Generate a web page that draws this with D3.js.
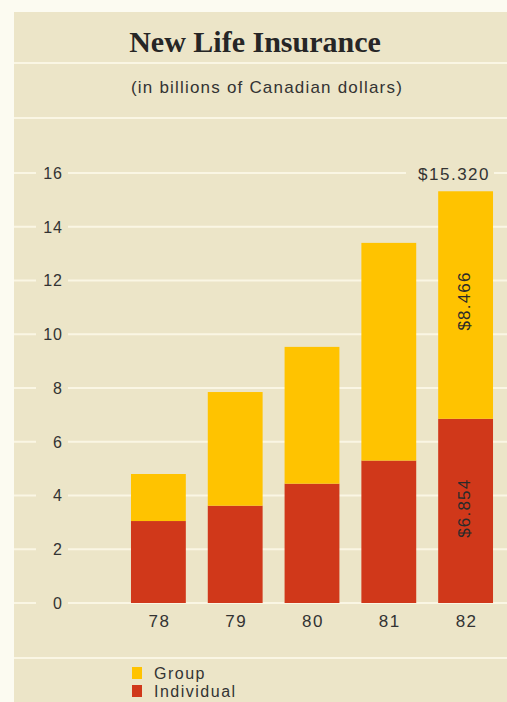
<!DOCTYPE html>
<html>
<head>
<meta charset="utf-8">
<script src="https://cdn.jsdelivr.net/npm/d3@7"></script>
<style>
  html, body { margin: 0; padding: 0; background: #fcfbf1; }
  svg { display: block; }
</style>
</head>
<body>
<div id="chart-area"></div>
<script>
// data
var years = ['78', '79', '80', '81', '82'];
var individual = [3.05, 3.62, 4.44, 5.30, 6.854];
var group = [1.75, 4.23, 5.09, 8.10, 8.466];
var yTicks = [0, 2, 4, 6, 8, 10, 12, 14, 16];
var seriesNames = ['Group', 'Individual'];
var totalLabel = '$15.320';
var groupLabel = '$8.466';
var indivLabel = '$6.854';

var W = 507, H = 702;
var panel = { left: 14, top: 12 };
var bg = '#ece5c8', lineCol = '#faf6e4', textCol = '#333';
var colors = { Group: '#ffc300', Individual: '#d0381a' };
var sans = '"Liberation Sans", Arial, sans-serif';

var svg = d3.select('#chart-area').append('svg')
  .attr('width', W).attr('height', H);

svg.append('rect')
  .attr('x', panel.left).attr('y', panel.top)
  .attr('width', W - panel.left).attr('height', H - panel.top)
  .attr('fill', bg);

// band separators
[63, 118, 658].forEach(function(yy) {
  svg.append('rect').attr('x', panel.left).attr('y', yy - 1)
    .attr('width', W - panel.left).attr('height', 2).attr('fill', lineCol);
});

svg.append('text')
  .attr('x', 255).attr('y', 52)
  .attr('text-anchor', 'middle')
  .attr('font-family', '"Liberation Serif", "Times New Roman", serif')
  .attr('font-weight', 'bold').attr('font-size', '30px')
  .attr('fill', '#262626')
  .text('New Life Insurance');

svg.append('text')
  .attr('x', 267).attr('y', 93)
  .attr('text-anchor', 'middle')
  .attr('font-family', sans).attr('font-size', '17px')
  .attr('letter-spacing', '1.2px')
  .attr('fill', textCol)
  .text('(in billions of Canadian dollars)');

var x = d3.scaleBand().domain(years).range([120, 504])
  .paddingInner(0.286).paddingOuter(0.143);
var y = d3.scaleLinear().domain([0, 16]).range([603, 173]);

// gridlines
svg.append('g').selectAll('rect').data(yTicks).enter().append('rect')
  .attr('x', panel.left).attr('y', function(d) { return y(d) - 1; })
  .attr('width', W - panel.left).attr('height', 2).attr('fill', lineCol);

// y labels with beige knockouts
var yl = svg.append('g');
yl.selectAll('rect').data(yTicks).enter().append('rect')
  .attr('x', 36).attr('y', function(d) { return y(d) - 4; })
  .attr('width', 32).attr('height', 8).attr('fill', bg);
yl.selectAll('text').data(yTicks).enter().append('text')
  .attr('x', 63).attr('y', function(d) { return y(d); })
  .attr('dy', '0.36em')
  .attr('text-anchor', 'end')
  .attr('font-family', sans).attr('font-size', '16px')
  .attr('letter-spacing', '1px')
  .attr('fill', textCol)
  .text(function(d) { return d; });

// stacked bars
var table = years.map(function(yr, i) {
  return { year: yr, Individual: individual[i], Group: group[i] };
});
var stack = d3.stack().keys(['Individual', 'Group'])(table);

svg.append('g').selectAll('g').data(stack).enter().append('g')
  .attr('fill', function(s) { return colors[s.key]; })
  .selectAll('rect').data(function(s) { return s; }).enter().append('rect')
  .attr('x', function(d) { return x(d.data.year); })
  .attr('y', function(d) { return y(d[1]); })
  .attr('width', x.bandwidth())
  .attr('height', function(d) { return y(d[0]) - y(d[1]); });

// x labels
svg.append('g').selectAll('text').data(years).enter().append('text')
  .attr('x', function(d) { return x(d) + x.bandwidth() / 2 + 1; })
  .attr('y', 627)
  .attr('text-anchor', 'middle')
  .attr('font-family', sans).attr('font-size', '17px')
  .attr('letter-spacing', '1.5px')
  .attr('fill', textCol)
  .text(function(d) { return d; });

// value labels on last bar
var last = years.length - 1;
var cx = x(years[last]) + x.bandwidth() / 2;
var total = individual[last] + group[last];

svg.append('rect')
  .attr('x', 406).attr('y', y(16) - 4).attr('width', 88).attr('height', 8)
  .attr('fill', bg);
svg.append('text')
  .attr('x', x(years[last]) + x.bandwidth() - 3).attr('y', y(total) - 11)
  .attr('text-anchor', 'end')
  .attr('font-family', sans).attr('font-size', '17px')
  .attr('letter-spacing', '1.5px')
  .attr('fill', textCol)
  .text(totalLabel);

function vLabel(val, mid) {
  svg.append('text')
    .attr('transform', 'translate(' + (cx - 2) + ',' + y(mid) + ') rotate(-90)')
    .attr('dy', '0.36em')
    .attr('text-anchor', 'middle')
    .attr('font-family', sans).attr('font-size', '17px')
    .attr('letter-spacing', '1.2px')
    .attr('fill', '#2a2a2a')
    .text(val);
}
vLabel(groupLabel, individual[last] + group[last] / 2 + 0.15);
vLabel(indivLabel, individual[last] / 2 + 0.1);

// legend
var lg = svg.append('g');
seriesNames.forEach(function(name, i) {
  var yy = 673 + i * 18;
  lg.append('rect').attr('x', 132).attr('y', yy - 6)
    .attr('width', 10).attr('height', 12).attr('fill', colors[name]);
  lg.append('text').attr('x', 154).attr('y', yy).attr('dy', '0.36em')
    .attr('font-family', sans).attr('font-size', '16px')
    .attr('letter-spacing', '1.5px')
    .attr('fill', textCol).text(name);
});
</script>
</body>
</html>
